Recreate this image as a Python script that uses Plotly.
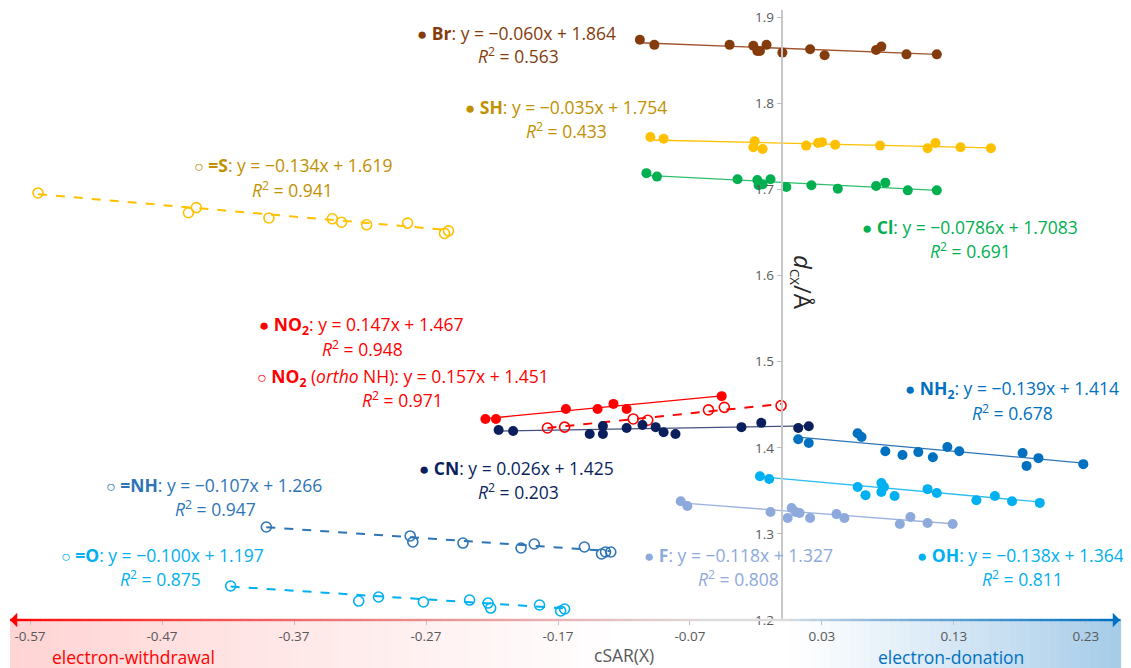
import plotly.graph_objects as go

# ---------------- data (cSAR(X) vs d_CX) ----------------
br_x = [-0.108, -0.097, -0.040, -0.022, -0.019, -0.017, -0.012, 0.000, 0.021, 0.032, 0.071, 0.075, 0.094, 0.117]
br_y = [1.874, 1.868, 1.868, 1.867, 1.861, 1.861, 1.868, 1.859, 1.863, 1.856, 1.862, 1.866, 1.857, 1.857]

sh_x = [-0.100, -0.090, -0.021, -0.022, -0.015, 0.018, 0.027, 0.030, 0.040, 0.074, 0.110, 0.116, 0.135, 0.158]
sh_y = [1.761, 1.759, 1.756, 1.749, 1.747, 1.751, 1.754, 1.755, 1.752, 1.751, 1.748, 1.754, 1.749, 1.748]

cl_x = [-0.103, -0.095, -0.034, -0.019, -0.018, -0.015, -0.009, 0.003, 0.022, 0.042, 0.071, 0.078, 0.095, 0.117]
cl_y = [1.719, 1.715, 1.712, 1.711, 1.705, 1.706, 1.712, 1.703, 1.705, 1.701, 1.704, 1.708, 1.699, 1.699]

s_x = [-0.564, -0.450, -0.444, -0.389, -0.341, -0.334, -0.315, -0.284, -0.256, -0.253]
s_y = [1.696, 1.673, 1.679, 1.667, 1.666, 1.662, 1.659, 1.661, 1.649, 1.652]

no2_x = [-0.225, -0.217, -0.164, -0.140, -0.128, -0.118, -0.046]
no2_y = [1.4335, 1.4335, 1.445, 1.445, 1.451, 1.445, 1.460]

no2o_x = [-0.178, -0.165, -0.113, -0.102, -0.056, -0.044, -0.001]
no2o_y = [1.423, 1.424, 1.4335, 1.432, 1.444, 1.447, 1.449]

cn_x = [-0.215, -0.204, -0.146, -0.136, -0.136, -0.118, -0.106, -0.096, -0.090, -0.081, -0.031, -0.016, 0.012, 0.020]
cn_y = [1.4207, 1.4195, 1.416, 1.4253, 1.416, 1.423, 1.4265, 1.424, 1.418, 1.416, 1.424, 1.429, 1.423, 1.425]

nh2_x = [0.012, 0.020, 0.057, 0.060, 0.078, 0.091, 0.103, 0.114, 0.125, 0.134, 0.182, 0.185, 0.194, 0.228]
nh2_y = [1.410, 1.4056, 1.417, 1.4125, 1.396, 1.3916, 1.395, 1.389, 1.401, 1.396, 1.394, 1.379, 1.388, 1.381]

oh_x = [-0.017, -0.010, 0.057, 0.063, 0.075, 0.077, 0.075, 0.085, 0.110, 0.117, 0.147, 0.161, 0.174, 0.195]
oh_y = [1.367, 1.3638, 1.3545, 1.345, 1.359, 1.3545, 1.3487, 1.344, 1.352, 1.3475, 1.339, 1.344, 1.338, 1.336]

f_x = [-0.077, -0.072, -0.009, 0.004, 0.007, 0.010, 0.013, 0.021, 0.041, 0.047, 0.089, 0.097, 0.110, 0.129]
f_y = [1.338, 1.3324, 1.3254, 1.3185, 1.330, 1.3254, 1.3243, 1.3185, 1.323, 1.3185, 1.3115, 1.3196, 1.3127, 1.3115]

nh_x = [-0.391, -0.282, -0.280, -0.242, -0.198, -0.188, -0.150, -0.137, -0.134, -0.130]
nh_y = [1.308, 1.2976, 1.2906, 1.2894, 1.2836, 1.2883, 1.2848, 1.2767, 1.279, 1.279]

o_x = [-0.418, -0.321, -0.306, -0.272, -0.237, -0.223, -0.221, -0.184, -0.168, -0.165]
o_y = [1.2395, 1.222, 1.2267, 1.2209, 1.2232, 1.2197, 1.2139, 1.2174, 1.2105, 1.2128]

# regression coefficients (slope, intercept) as printed on the chart
fits = {
    "Br": (-0.060, 1.864), "SH": (-0.035, 1.754), "Cl": (-0.0786, 1.7083),
    "=S": (-0.134, 1.619), "NO2": (0.147, 1.467), "NO2o": (0.157, 1.451),
    "CN": (0.026, 1.425), "NH2": (-0.139, 1.414), "OH": (-0.138, 1.364),
    "F": (-0.118, 1.327), "=NH": (-0.107, 1.266), "=O": (-0.100, 1.197),
}

x_ticks = [-0.57, -0.47, -0.37, -0.27, -0.17, -0.07, 0.03, 0.13, 0.23]
x_ticktext = ["-0.57", "-0.47", "-0.37", "-0.27", "-0.17", "-0.07", "0.03", "0.13", "0.23"]
y_ticks = [1.2, 1.3, 1.4, 1.5, 1.6, 1.7, 1.8, 1.9]
y_ticktext = ["1.2", "1.3", "1.4", "1.5", "1.6", "1.7", "1.8", "1.9"]

# ---------------- styling ----------------
FONT = "Open Sans"
series = [
    ("Br", br_x, br_y, "#843C0C", "#A0522D", False),
    ("SH", sh_x, sh_y, "#FFC000", "#FFC000", False),
    ("Cl", cl_x, cl_y, "#00B050", "#2DBE6C", False),
    ("=S", s_x, s_y, "#FFC000", "#FFC000", True),
    ("NO2", no2_x, no2_y, "#FF0000", "#FF0000", False),
    ("NO2o", no2o_x, no2o_y, "#FF0000", "#FF0000", True),
    ("CN", cn_x, cn_y, "#0A1F5C", "#44507E", False),
    ("NH2", nh2_x, nh2_y, "#0070C0", "#2E75B6", False),
    ("OH", oh_x, oh_y, "#00B0F0", "#2CBDF2", False),
    ("F", f_x, f_y, "#8EA9DB", "#9DB3DF", False),
    ("=NH", nh_x, nh_y, "#2E75B6", "#2E75B6", True),
    ("=O", o_x, o_y, "#00B0F0", "#00B0F0", True),
]

X0, X1 = -0.5852, 0.2558
Y0, Y1 = 1.2, 1.9085

fig = go.Figure()
for name, xs, ys, mcol, lcol, is_open in series:
    m, b = fits[name]
    xmin, xmax = min(xs), max(xs)
    fig.add_trace(go.Scatter(
        x=[xmin, xmax], y=[m * xmin + b, m * xmax + b], mode="lines",
        line=dict(color=lcol, width=2 if is_open else 1.3, dash="dash" if is_open else "solid"),
        hoverinfo="skip", showlegend=False))
for name, xs, ys, mcol, lcol, is_open in series:
    if is_open:
        marker = dict(symbol="circle-open", size=10, color=mcol, line=dict(width=1.6, color=mcol))
    else:
        marker = dict(symbol="circle", size=10, color=mcol)
    fig.add_trace(go.Scatter(x=xs, y=ys, mode="markers", marker=marker, name=name, showlegend=False))

# page has an 8px body margin: figure is sized so the screen plot area is 10..1120 x 10..620
OFF = 8
W, H = 1123, 660
L, R, T, B = 2, 11, 2, 48
PW, PH = W - L - R, H - T - B
SCR_L, SCR_B = OFF + L, OFF + H - B


def px(xs):
    return (xs - SCR_L) / PW


def py(ys):
    return (SCR_B - ys) / PH


anns = []


def label(text, cx, cy, color, size=17.5):
    anns.append(dict(text=text, x=px(cx), y=py(cy), xref="paper", yref="paper",
                     xanchor="center", yanchor="middle", showarrow=False,
                     font=dict(family=FONT, size=size, color=color)))


DOT = '<span style="font-size:17px">●</span> '
CIR = '<span style="font-size:16px">○</span> '
R2 = "<i>R</i><sup>2</sup> = "

label(DOT + "<b>Br</b>: y = −0.060x + 1.864", 516, 33, "#843C0C")
label(R2 + "0.563", 518, 56, "#843C0C")
label(DOT + "<b>SH</b>: y = −0.035x + 1.754", 566, 107, "#BF9000")
label(R2 + "0.433", 566, 130, "#BF9000")
label(CIR + "<b>=S</b>: y = −0.134x + 1.619", 293, 165, "#BF9000")
label(R2 + "0.941", 292, 189, "#BF9000")
label(DOT + "<b>Cl</b>: y = −0.0786x + 1.7083", 970, 227, "#00B050")
label(R2 + "0.691", 970, 251, "#00B050")
label(DOT + "<b>NO<sub>2</sub></b>: y = 0.147x + 1.467", 361, 325, "#FF0000")
label(R2 + "0.948", 362, 348, "#FF0000")
label(CIR + "<b>NO<sub>2</sub></b> (<i>ortho</i> NH): y = 0.157x + 1.451", 403, 377, "#FF0000")
label(R2 + "0.971", 402, 399, "#FF0000")
label(DOT + "<b>CN</b>: y = 0.026x + 1.425", 516, 468, "#0A1F5C")
label(R2 + "0.203", 518, 492, "#0A1F5C")
label(DOT + "<b>NH<sub>2</sub></b>: y = −0.139x + 1.414", 1012, 389, "#0070C0")
label(R2 + "0.678", 1012, 412, "#0070C0")
label(CIR + "<b>=NH</b>: y = −0.107x + 1.266", 214, 485, "#2E75B6")
label(R2 + "0.947", 215, 508, "#2E75B6")
label(CIR + "<b>=O</b>: y = −0.100x + 1.197", 162, 555, "#00B0F0")
label(R2 + "0.875", 160, 578, "#00B0F0")
label(DOT + "<b>F</b>: y = −0.118x + 1.327", 738, 555, "#8EA9DB")
label(R2 + "0.808", 738, 578, "#8EA9DB")
label(DOT + "<b>OH</b>: y = −0.138x + 1.364", 1020, 555, "#00B0F0")
label(R2 + "0.811", 1022, 578, "#00B0F0")

# axis titles and bottom labels
anns.append(dict(text='<i>d</i><span style="font-size:19px"><sub>CX</sub></span>/Å', x=px(803), y=py(282),
                 xref="paper", yref="paper",
                 showarrow=False, textangle=90, xanchor="center", yanchor="middle",
                 font=dict(family=FONT, size=24, color="#262626")))
label("cSAR(X)", 624, 655, "#595959", 17.5)
label("electron-withdrawal", 133, 657, "#FF0000", 17.5)
label("electron-donation", 951, 657, "#0070C0", 17.5)

# arrowheads
anns.append(dict(x=0, y=0, xref="paper", yref="paper", ax=18, ay=0, axref="pixel", ayref="pixel",
                 text="", showarrow=True, arrowhead=1, arrowsize=1.1, arrowwidth=2.2, arrowcolor="#FF0000"))
anns.append(dict(x=1, y=0, xref="paper", yref="paper", ax=-18, ay=0, axref="pixel", ayref="pixel",
                 text="", showarrow=True, arrowhead=1, arrowsize=1.1, arrowwidth=2.2, arrowcolor="#0070C0"))

# gradient band below the axis and gradient arrow line
shapes = []
N = 111


def blend(c1, c2, t):
    return tuple(int(round(a + (b - a) * t)) for a, b in zip(c1, c2))


for i in range(N):
    xa = SCR_L + PW * i / N
    xb = SCR_L + PW * (i + 1) / N
    xm = (xa + xb) / 2
    if xm < 620:
        t = (620 - xm) / 610
        c = blend((255, 255, 255), (255, 212, 212), t)
    elif xm > 790:
        t = (xm - 790) / 330
        c = blend((255, 255, 255), (165, 203, 232), t ** 1.1)
    else:
        c = (255, 255, 255)
    shapes.append(dict(type="rect", xref="paper", yref="paper", x0=px(xa), x1=px(xb) + 0.001,
                       y0=-B / PH, y1=0, fillcolor="rgb(%d,%d,%d)" % c, line=dict(width=0), layer="below"))
    if xm < 700:
        t = (xm - SCR_L) / (700 - SCR_L)
        lc = blend((255, 0, 0), (225, 215, 215), t ** 0.8)
    elif xm > 790:
        t = (xm - 790) / 330
        lc = blend((215, 222, 230), (0, 112, 192), t ** 0.8)
    else:
        lc = (220, 220, 220)
    shapes.append(dict(type="line", xref="paper", yref="paper", x0=px(xa), x1=px(xb) + 0.0005,
                       y0=0, y1=0, line=dict(color="rgb(%d,%d,%d)" % lc, width=2.4), layer="above"))

fig.update_layout(
    width=W, height=H, autosize=False,
    margin=dict(l=L, r=R, t=T, b=B, pad=0),
    paper_bgcolor="white", plot_bgcolor="white",
    font=dict(family=FONT),
    annotations=anns, shapes=shapes, showlegend=False,
    xaxis=dict(range=[X0, X1], tickvals=x_ticks, ticktext=x_ticktext, ticks="outside", ticklen=4,
               tickcolor="#BFBFBF", tickfont=dict(family=FONT, size=13.5, color="#595959"),
               showgrid=False, zeroline=False, showline=False, automargin=False,
               ticklabeloverflow="allow"),
    yaxis=dict(range=[Y0, Y1], tickvals=y_ticks, ticktext=y_ticktext, ticks="outside", ticklen=5,
               tickcolor="#BFBFBF", tickfont=dict(family=FONT, size=13.5, color="#595959"),
               showgrid=False, zeroline=False, showline=True, linecolor="#C8C8C8", linewidth=1.5,
               anchor="free", position=(0 - X0) / (X1 - X0), side="left", automargin=False,
               ticklabeloverflow="allow"),
)

fig.write_html("out.html")
